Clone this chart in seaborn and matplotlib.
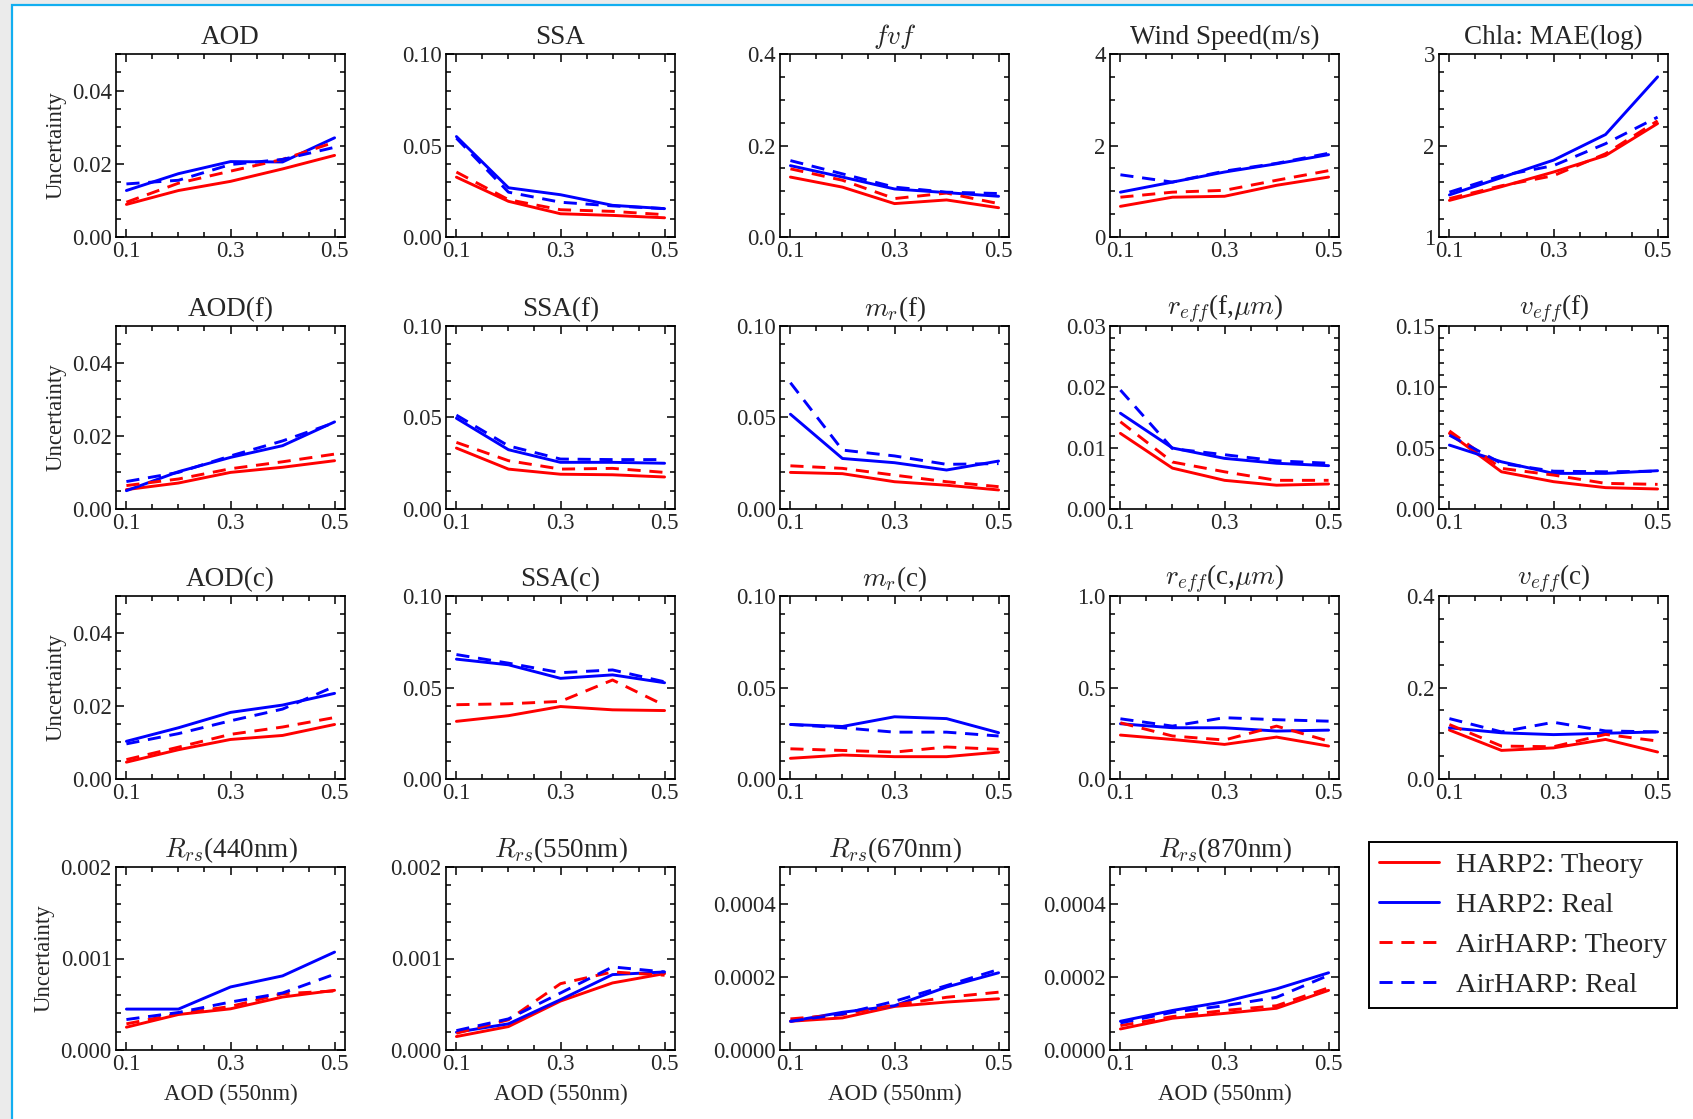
import matplotlib
matplotlib.use("Agg")
import matplotlib.pyplot as plt
import numpy as np
import pandas as pd
import seaborn as sns
from matplotlib.ticker import AutoMinorLocator, FormatStrFormatter, FixedLocator
from matplotlib.patches import Rectangle

# ---------------- data ----------------
aod_550 = [0.1, 0.2, 0.3, 0.4, 0.5]
series_names = ["HARP2: Theory", "HARP2: Real", "AirHARP: Theory", "AirHARP: Real"]
x_ticks = [0.1, 0.3, 0.5]

# each panel: rows = HARP2 Theory, HARP2 Real, AirHARP Theory, AirHARP Real
aod = [[0.0089, 0.0127, 0.0152, 0.0186, 0.0223],
       [0.0127, 0.0173, 0.0206, 0.0205, 0.0271],
       [0.0095, 0.0147, 0.0180, 0.0212, 0.0259],
       [0.0145, 0.0155, 0.0198, 0.0212, 0.0245]]
ssa = [[0.0327, 0.0195, 0.0127, 0.0118, 0.0105],
       [0.0549, 0.0269, 0.0231, 0.0173, 0.0155],
       [0.0355, 0.0204, 0.0149, 0.0140, 0.0122],
       [0.0540, 0.0245, 0.0190, 0.0170, 0.0155]]
fvf = [[0.131, 0.109, 0.073, 0.081, 0.064],
       [0.156, 0.131, 0.105, 0.097, 0.089],
       [0.149, 0.124, 0.084, 0.096, 0.073],
       [0.167, 0.138, 0.109, 0.098, 0.095]]
wind = [[0.67, 0.87, 0.89, 1.13, 1.31],
        [0.98, 1.20, 1.42, 1.60, 1.80],
        [0.87, 0.98, 1.02, 1.24, 1.45],
        [1.36, 1.20, 1.44, 1.61, 1.83]]
chla = [[1.40, 1.55, 1.71, 1.89, 2.24],
        [1.46, 1.65, 1.84, 2.12, 2.75],
        [1.42, 1.56, 1.67, 1.91, 2.27],
        [1.49, 1.67, 1.78, 2.02, 2.31]]
aod_f = [[0.0053, 0.0071, 0.0100, 0.0114, 0.0132],
         [0.0050, 0.0102, 0.0141, 0.0173, 0.0238],
         [0.0064, 0.0082, 0.0110, 0.0129, 0.0150],
         [0.0075, 0.0100, 0.0145, 0.0186, 0.0236]]
ssa_f = [[0.0333, 0.0218, 0.0190, 0.0187, 0.0175],
         [0.0496, 0.0324, 0.0255, 0.0255, 0.0250],
         [0.0364, 0.0264, 0.0218, 0.0222, 0.0200],
         [0.0513, 0.0345, 0.0273, 0.0270, 0.0270]]
mr_f = [[0.0200, 0.0193, 0.0149, 0.0130, 0.0104],
        [0.0518, 0.0276, 0.0253, 0.0213, 0.0262],
        [0.0236, 0.0222, 0.0185, 0.0149, 0.0122],
        [0.0690, 0.0322, 0.0290, 0.0244, 0.0248]]
reff_f = [[0.0124, 0.0067, 0.0047, 0.0039, 0.0041],
          [0.0157, 0.0100, 0.0083, 0.0075, 0.0071],
          [0.0143, 0.0077, 0.0061, 0.0047, 0.0047],
          [0.0195, 0.0099, 0.0089, 0.0079, 0.0075]]
veff_f = [[0.0620, 0.0305, 0.0224, 0.0175, 0.0164],
          [0.0524, 0.0387, 0.0292, 0.0292, 0.0314],
          [0.0640, 0.0333, 0.0278, 0.0210, 0.0202],
          [0.0605, 0.0374, 0.0310, 0.0305, 0.0310]]
aod_c = [[0.0046, 0.0080, 0.0108, 0.0119, 0.0149],
         [0.0103, 0.0140, 0.0182, 0.0202, 0.0234],
         [0.0053, 0.0087, 0.0122, 0.0142, 0.0168],
         [0.0096, 0.0124, 0.0159, 0.0191, 0.0253]]
ssa_c = [[0.0315, 0.0346, 0.0396, 0.0378, 0.0374],
         [0.0655, 0.0624, 0.0550, 0.0569, 0.0526],
         [0.0406, 0.0411, 0.0424, 0.0541, 0.0402],
         [0.0680, 0.0633, 0.0581, 0.0596, 0.0531]]
mr_c = [[0.0113, 0.0131, 0.0122, 0.0122, 0.0147],
        [0.0298, 0.0287, 0.0340, 0.0330, 0.0253],
        [0.0165, 0.0156, 0.0147, 0.0175, 0.0162],
        [0.0298, 0.0280, 0.0256, 0.0256, 0.0235]]
reff_c = [[0.240, 0.216, 0.189, 0.229, 0.180],
          [0.302, 0.280, 0.280, 0.262, 0.267],
          [0.307, 0.235, 0.213, 0.289, 0.207],
          [0.329, 0.289, 0.335, 0.324, 0.316]]
veff_c = [[0.107, 0.0625, 0.068, 0.0865, 0.059],
          [0.112, 0.101, 0.097, 0.100, 0.103],
          [0.119, 0.072, 0.0705, 0.0975, 0.083],
          [0.132, 0.103, 0.124, 0.105, 0.103]]
rrs_440 = [[0.000249, 0.000388, 0.000450, 0.000579, 0.000652],
           [0.000447, 0.000447, 0.000689, 0.000810, 0.001070],
           [0.000286, 0.000396, 0.000476, 0.000615, 0.000645],
           [0.000333, 0.000410, 0.000524, 0.000623, 0.000828]]
rrs_550 = [[0.000147, 0.000256, 0.000535, 0.000733, 0.000835],
           [0.000194, 0.000286, 0.000550, 0.000824, 0.000853],
           [0.000183, 0.000330, 0.000725, 0.000853, 0.000817],
           [0.000212, 0.000340, 0.000623, 0.000908, 0.000853]]
rrs_670 = [[0.0000785, 0.0000877, 0.000119, 0.000131, 0.000140],
           [0.0000785, 0.000103, 0.000121, 0.000172, 0.000211],
           [0.0000850, 0.0000968, 0.000123, 0.000144, 0.000158],
           [0.0000785, 0.0000986, 0.000133, 0.000176, 0.000220]]
rrs_870 = [[0.0000575, 0.0000868, 0.000100, 0.000114, 0.000163],
           [0.0000785, 0.000108, 0.000132, 0.000167, 0.000211],
           [0.0000667, 0.0000913, 0.000108, 0.000121, 0.000170],
           [0.0000740, 0.000103, 0.000121, 0.000144, 0.000204]]

titles = ["AOD", "SSA", "$fvf$", "Wind Speed(m/s)", "Chla: MAE(log)",
          "AOD(f)", "SSA(f)", "$m_r$(f)", r"$r_{eff}$(f,$\mu m$)", "$v_{eff}$(f)",
          "AOD(c)", "SSA(c)", "$m_r$(c)", r"$r_{eff}$(c,$\mu m$)", "$v_{eff}$(c)",
          "$R_{rs}$(440nm)", "$R_{rs}$(550nm)", "$R_{rs}$(670nm)", "$R_{rs}$(870nm)"]
panel_data = [aod, ssa, fvf, wind, chla,
              aod_f, ssa_f, mr_f, reff_f, veff_f,
              aod_c, ssa_c, mr_c, reff_c, veff_c,
              rrs_440, rrs_550, rrs_670, rrs_870]
y_ticks = [[0, 0.02, 0.04], [0, 0.05, 0.10], [0, 0.2, 0.4], [0, 2, 4], [1, 2, 3],
           [0, 0.02, 0.04], [0, 0.05, 0.10], [0, 0.05, 0.10], [0, 0.01, 0.02, 0.03], [0, 0.05, 0.10, 0.15],
           [0, 0.02, 0.04], [0, 0.05, 0.10], [0, 0.05, 0.10], [0, 0.5, 1.0], [0, 0.2, 0.4],
           [0, 0.001, 0.002], [0, 0.001, 0.002], [0, 0.0002, 0.0004], [0, 0.0002, 0.0004]]
y_lims = [(0, 0.05), (0, 0.10), (0, 0.4), (0, 4), (1, 3),
          (0, 0.05), (0, 0.10), (0, 0.10), (0, 0.03), (0, 0.15),
          (0, 0.05), (0, 0.10), (0, 0.10), (0, 1.0), (0, 0.4),
          (0, 0.002), (0, 0.002), (0, 0.0005), (0, 0.0005)]
y_fmt = ["%.2f", "%.2f", "%.1f", "%d", "%d",
         "%.2f", "%.2f", "%.2f", "%.2f", "%.2f",
         "%.2f", "%.2f", "%.2f", "%.1f", "%.1f",
         "%.3f", "%.3f", "%.4f", "%.4f"]

# ---------------- style ----------------
sns.set_style("ticks")
plt.rcParams["font.family"] = ["Liberation Serif", "DejaVu Serif"]
plt.rcParams["mathtext.fontset"] = "cm"
plt.rcParams["xtick.direction"] = "in"
plt.rcParams["ytick.direction"] = "in"
plt.rcParams["axes.linewidth"] = 1.2
plt.rcParams["axes.edgecolor"] = "black"

W, H = 1693, 1119
fig = plt.figure(figsize=(W / 100, H / 100), dpi=100)
fig.patch.set_facecolor("#ebebeb")
fig.add_artist(Rectangle((12 / W, -0.02), 1.05, 1 - 5 / H + 0.02, transform=fig.transFigure,
                         facecolor="white", edgecolor="#12aef0", linewidth=1.6, zorder=-10))

col_left = [116, 446, 780, 1110, 1439]
row_top = [54, 326, 596, 867]
aw, ah = 229, 183

palette = {series_names[0]: "red", series_names[1]: "blue",
           series_names[2]: "red", series_names[3]: "blue"}
dashes = {series_names[0]: "", series_names[1]: "",
          series_names[2]: (4.5, 3), series_names[3]: (4.5, 3)}

handles = labels = None
for i, (title, vals) in enumerate(zip(titles, panel_data)):
    r, c = divmod(i, 5)
    ax = fig.add_axes([col_left[c] / W, 1 - (row_top[r] + ah) / H, aw / W, ah / H])
    df = pd.DataFrame({
        "AOD": np.tile(aod_550, 4),
        "value": np.concatenate(vals),
        "series": np.repeat(series_names, 5),
    })
    sns.lineplot(data=df, x="AOD", y="value", hue="series", style="series",
                 palette=palette, dashes=dashes, hue_order=series_names,
                 style_order=series_names, linewidth=2.1, ax=ax, legend=(i == 0))
    if i == 0:
        handles, labels = ax.get_legend_handles_labels()
        ax.get_legend().remove()
    ax.set_xlim(0.08, 0.52)
    ax.set_ylim(*y_lims[i])
    ax.xaxis.set_major_locator(FixedLocator(x_ticks))
    ax.xaxis.set_major_formatter(FormatStrFormatter("%.1f"))
    ax.xaxis.set_minor_locator(FixedLocator(np.arange(0.1, 0.501, 0.05)))
    ax.yaxis.set_major_locator(FixedLocator(y_ticks[i]))
    ax.yaxis.set_major_formatter(FormatStrFormatter(y_fmt[i]))
    ax.yaxis.set_minor_locator(AutoMinorLocator())
    ax.tick_params(which="both", direction="in", top=True, right=True,
                   labelsize=16.5, width=1.1, color="black")
    ax.tick_params(which="major", length=6, pad=3)
    ax.tick_params(which="minor", length=3.5)
    ax.set_title(title, fontsize=19.5, pad=7)
    ax.set_ylabel("Uncertainty" if c == 0 else "", fontsize=16.5)
    ax.set_xlabel("AOD (550nm)" if r == 3 else "", fontsize=16.5, labelpad=6)
    for s in ax.spines.values():
        s.set_linewidth(1.2)

leg = fig.legend(handles, labels, loc="upper left",
                 bbox_to_anchor=(1369 / W, 1 - 842 / H), borderaxespad=0,
                 fontsize=20.5, frameon=True, fancybox=False, framealpha=1,
                 edgecolor="black", handlelength=2.1, handletextpad=0.6,
                 borderpad=0.35, labelspacing=0.5)
leg.get_frame().set_linewidth(1.4)

fig.savefig("out.png", dpi=100, facecolor=fig.get_facecolor())
